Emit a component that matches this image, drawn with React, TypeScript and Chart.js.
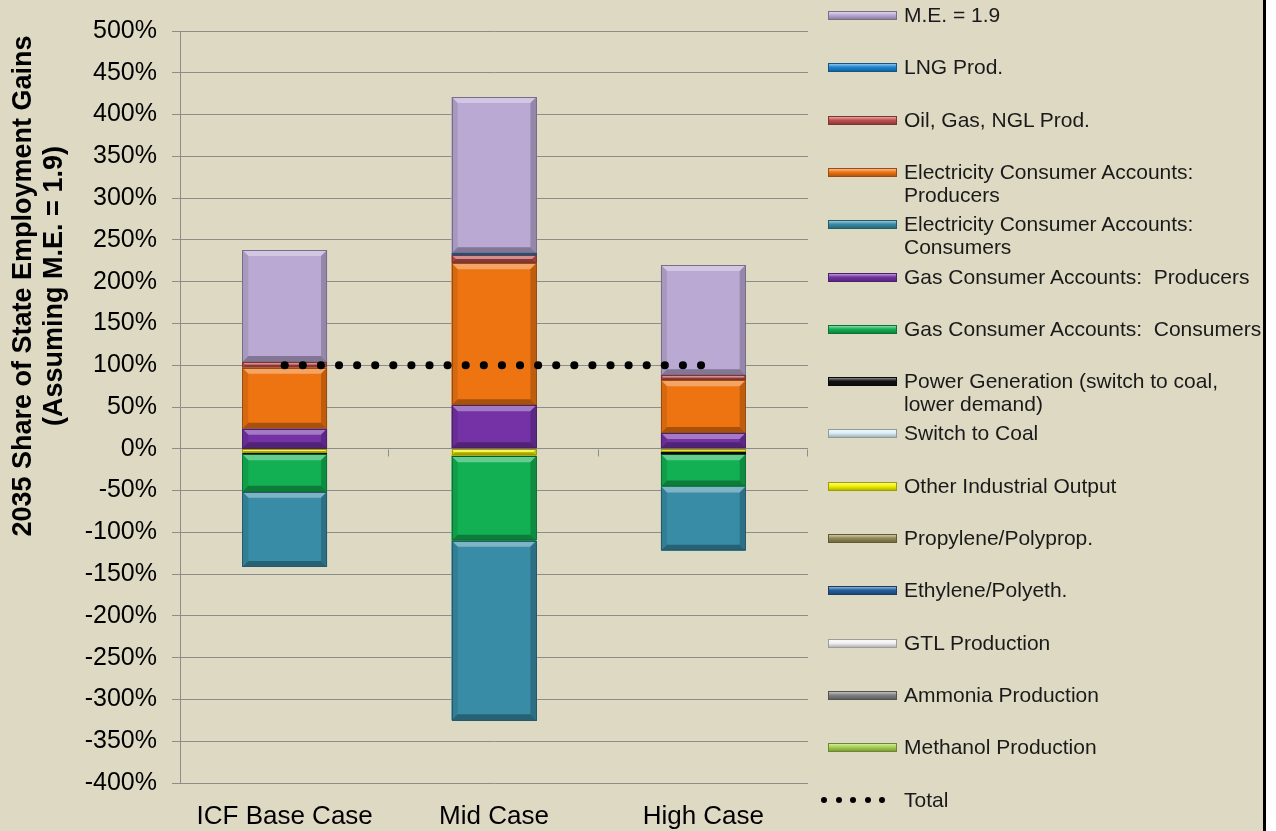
import React, { useEffect, useRef } from 'react';
import { Chart, registerables } from 'chart.js';
Chart.register(...registerables);

// ---------- data ----------
const categories = ['ICF Base Case', 'Mid Case', 'High Case'];

const seriesLabels = [
  'Methanol Production',
  'Ammonia Production',
  'GTL Production',
  'Ethylene/Polyeth.',
  'Propylene/Polyprop.',
  'Other Industrial Output',
  'Switch to Coal',
  'Power Generation (switch to coal,\nlower demand)',
  'Gas Consumer Accounts:  Consumers',
  'Gas Consumer Accounts:  Producers',
  'Electricity Consumer Accounts:\nConsumers',
  'Electricity Consumer Accounts:\nProducers',
  'Oil, Gas, NGL Prod.',
  'LNG Prod.',
  'M.E. = 1.9',
];

const methanol = [0, 0, 0];
const ammonia = [0, 0, 0];
const gtl = [0, 0, 0];
const ethylene = [0, 0, 0];
const propylene = [0, 0, 0];
const otherIndustrial = [-5, -8, -4];
const switchToCoal = [0, 0, 0];
const powerGeneration = [-1.5, -1, -2.5];
const gasConsumers = [-45, -101, -38.5];
const gasProducers = [24, 52, 19];
const elecConsumers = [-90, -215, -77];
const elecProducers = [73, 170, 63];
const oilGasNgl = [7, 10, 6];
const lngProd = [0, 2, 0];
const meMultiplier = [134, 187, 132];
const totalLine = [100, 100, 100];

const totalLabel = 'Total';
const yTitle = ['2035 Share of State Employment Gains', '(Assuming M.E. = 1.9)'];

const seriesValues = [
  methanol, ammonia, gtl, ethylene, propylene, otherIndustrial, switchToCoal,
  powerGeneration, gasConsumers, gasProducers, elecConsumers, elecProducers,
  oilGasNgl, lngProd, meMultiplier,
];

const seriesColors = [
  '#A6D04E', '#808080', '#F2F2F2', '#255E9E', '#948A54', '#F2F200', '#DBEEF4',
  '#111111', '#12B052', '#7432A6', '#388CA6', '#EE7412', '#C0504D', '#1C84D0', '#BAA9D3',
];

// ---------- helpers ----------
function mix(hex: string, target: number, t: number) {
  const n = parseInt(hex.slice(1), 16);
  const r = (n >> 16) & 255, g = (n >> 8) & 255, b = n & 255;
  const f = (c: number) => Math.round(c + (target - c) * t);
  return `rgb(${f(r)},${f(g)},${f(b)})`;
}

const FONT = '"Liberation Sans", Arial, sans-serif';
const BG = '#DDD9C3';
const GRID = '#8C8C8C';

const bevelPlugin = {
  id: 'bevel',
  afterDatasetDraw(chart: any, args: any) {
    const meta = args.meta;
    if (meta.type !== 'bar') return;
    const base = seriesColors[args.index];
    const ctx = chart.ctx;
    ctx.save();
    meta.data.forEach((el: any, i: number) => {
      const v = chart.data.datasets[args.index].data[i];
      if (v === null || v === undefined) return;
      const p = el.getProps(['x', 'y', 'base', 'width'], true);
      const l = p.x - p.width / 2, r = p.x + p.width / 2;
      const t = Math.min(p.y, p.base), bt = Math.max(p.y, p.base);
      const h = bt - t;
      const b = Math.min(6, h / 2, p.width / 2);
      if (b < 0.8) return;
      const poly = (pts: number[][], c: string) => {
        ctx.beginPath();
        ctx.moveTo(pts[0][0], pts[0][1]);
        for (let k = 1; k < pts.length; k++) ctx.lineTo(pts[k][0], pts[k][1]);
        ctx.closePath();
        ctx.fillStyle = c;
        ctx.fill();
      };
      poly([[l, t], [r, t], [r - b, t + b], [l + b, t + b]], mix(base, 255, 0.35));
      poly([[l, t], [l + b, t + b], [l + b, bt - b], [l, bt]], mix(base, 0, 0.1));
      poly([[r, t], [r - b, t + b], [r - b, bt - b], [r, bt]], mix(base, 0, 0.2));
      poly([[l, bt], [l + b, bt - b], [r - b, bt - b], [r, bt]], mix(base, 0, 0.3));
      ctx.strokeStyle = mix(base, 0, 0.35);
      ctx.lineWidth = 1;
      ctx.strokeRect(Math.round(l) + 0.5, Math.round(t) + 0.5, Math.round(r - l) - 1, Math.max(0, Math.round(h) - 1));
    });
    ctx.restore();
  },
};

const axisDecorPlugin = {
  id: 'axisDecor',
  afterDraw(chart: any) {
    const ctx = chart.ctx;
    const xs = chart.scales.x, ys = chart.scales.y;
    const y0 = Math.round(ys.getPixelForValue(0)) + 0.5;
    ctx.save();
    ctx.strokeStyle = GRID;
    ctx.lineWidth = 1;
    for (let i = 1; i <= categories.length; i++) {
      const x = Math.round(xs.left + (i * (xs.right - xs.left)) / categories.length) - 0.5;
      ctx.beginPath();
      ctx.moveTo(x, y0);
      ctx.lineTo(x, y0 + 7);
      ctx.stroke();
    }
    // axis title
    ctx.fillStyle = '#000';
    ctx.font = `bold 27px ${FONT}`;
    ctx.textAlign = 'center';
    ctx.textBaseline = 'middle';
    const xsPos = [24, 55];
    yTitle.forEach((line, i) => {
      ctx.save();
      ctx.translate(xsPos[i], 286);
      ctx.rotate(-Math.PI / 2);
      ctx.fillText(line, 0, 0);
      ctx.restore();
    });
    ctx.restore();
  },
};

function ChartCanvas() {
  const ref = useRef<HTMLCanvasElement>(null);
  useEffect(() => {
    if (!ref.current) return;
    Chart.defaults.font.family = FONT;
    const barSets = seriesValues.map((vals, i) => ({
      type: 'bar' as const,
      label: seriesLabels[i].replace('\n', ' '),
      data: vals.map((v) => (v === 0 ? null : v)),
      backgroundColor: seriesColors[i],
      borderWidth: 0,
      stack: 'main',
      order: 1,
      barPercentage: 0.405,
      categoryPercentage: 1,
    }));
    const lineSet = {
      type: 'line' as const,
      label: totalLabel,
      data: totalLine,
      borderColor: '#000',
      borderWidth: 8,
      borderDash: [0.1, 18],
      borderCapStyle: 'round',
      pointRadius: 0,
      fill: false,
      stack: 'total',
      order: -1,
    };
    const chart = new Chart(ref.current, {
      type: 'bar',
      data: { labels: categories, datasets: [...barSets, lineSet] as any },
      plugins: [bevelPlugin, axisDecorPlugin],
      options: {
        animation: false,
        responsive: false,
        devicePixelRatio: 1,
        layout: { padding: { left: 0, top: 31, right: 12, bottom: 0 } },
        plugins: { legend: { display: false }, tooltip: { enabled: false } },
        scales: {
          x: {
            stacked: true,
            grid: { display: false },
            border: { display: false },
            ticks: { color: '#000', font: { size: 26 }, padding: 10, maxRotation: 0 },
            afterFit: (s: any) => { s.height = 48; },
          },
          y: {
            stacked: true,
            min: -400,
            max: 500,
            ticks: {
              stepSize: 50,
              color: '#000',
              font: { size: 25 },
              padding: 15,
              callback: (v: any) => `${v}%`,
            },
            grid: { color: GRID, lineWidth: 1, tickLength: 8, drawTicks: true },
            border: { display: true, color: GRID, width: 1 },
            afterFit: (s: any) => { s.width = 180; },
          },
        },
      } as any,
    });
    return () => chart.destroy();
  }, []);
  return <canvas ref={ref} width={820} height={831} style={{ position: 'absolute', left: 0, top: 0 }} />;
}

function Legend() {
  const items = seriesLabels.map((lab, i) => ({ lab, color: seriesColors[i] })).reverse();
  const step = 52.3;
  return (
    <div style={{ position: 'absolute', left: 0, top: 0, width: 1263, height: 831, overflow: 'hidden', pointerEvents: 'none' }}>
      {items.map((it, i) => {
        const cy = 15 + i * step;
        return (
          <React.Fragment key={i}>
            <div
              style={{
                position: 'absolute', left: 828, top: cy - 4, width: 69, height: 9,
                boxSizing: 'border-box',
                border: `1px solid ${mix(it.color, 0, 0.35)}`,
                background: `linear-gradient(to bottom, ${mix(it.color, 255, 0.5)} 0%, ${it.color} 45%, ${mix(it.color, 0, 0.25)} 100%)`,
              }}
            />
            <div
              style={{
                position: 'absolute', left: 904, top: cy - 12, font: `21px ${FONT}`, lineHeight: '23px',
                color: '#1a1a1a', whiteSpace: 'pre',
              }}
            >
              {it.lab}
            </div>
          </React.Fragment>
        );
      })}
      {(() => {
        const cy = 15 + items.length * step;
        return (
          <React.Fragment>
            {[0, 1, 2, 3, 4].map((k) => (
              <div key={k} style={{ position: 'absolute', left: 821 + k * 14.6, top: cy - 3, width: 6, height: 6, borderRadius: 3, background: '#000' }} />
            ))}
            <div style={{ position: 'absolute', left: 904, top: cy - 12, font: `21px ${FONT}`, lineHeight: '23px', color: '#1a1a1a', whiteSpace: 'pre' }}>
              {totalLabel}
            </div>
          </React.Fragment>
        );
      })()}
    </div>
  );
}

export default function App() {
  return (
    <div style={{ position: 'fixed', left: 0, top: 0, width: 1276, height: 831, background: '#fff', overflow: 'hidden' }}>
      <div style={{ position: 'absolute', left: 0, top: 0, width: 1263, height: 831, background: BG }} />
      <div style={{ position: 'absolute', left: 1263, top: 0, width: 3, height: 831, background: '#000' }} />
      <ChartCanvas />
      <Legend />
    </div>
  );
}
